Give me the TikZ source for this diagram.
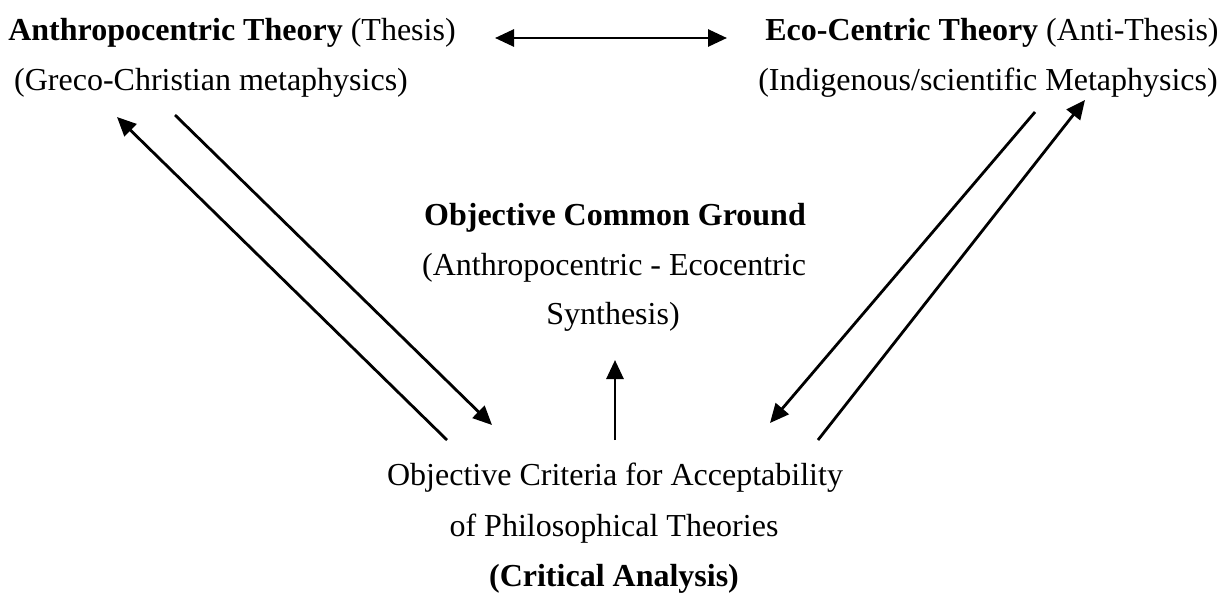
\documentclass[tikz,border=0pt]{standalone}
\usepackage{fontspec}
\setmainfont{Liberation Serif}
\usetikzlibrary{arrows.meta}
\begin{document}
\begin{tikzpicture}[x=1pt,y=-1pt,
  txt/.style={inner sep=0pt,anchor=base,font=\fontsize{32}{38}\selectfont},
  arr/.style={line width=2.8pt,-{Triangle[length=19pt,width=17pt]}},
  darr/.style={line width=2.8pt,{Triangle[length=19pt,width=17pt]}-{Triangle[length=19pt,width=17pt]}}]
\useasboundingbox (0,0) rectangle (1232,611);
% top left
\node[txt] (a1) at (232,40) {\textbf{Anthropocentric Theory} (Thesis)};
\node[txt] (a2) at (211,90) {(Greco-Christian metaphysics)};
% top right
\node[txt] (b1) at (992,40) {\textbf{Eco-Centric Theory} (Anti-Thesis)};
\node[txt] (b2) at (988,90) {(Indigenous/scientific Metaphysics)};
% centre
\node[txt] (c1) at (615,225) {\textbf{Objective Common Ground}};
\node[txt] (c2) at (614,275) {(Anthropocentric - Ecocentric};
\node[txt] (c3) at (613,324) {Synthesis)};
% bottom
\node[txt] (d1) at (615,485) {Objective Criteria for Acceptability};
\node[txt] (d2) at (614,536) {of Philosophical Theories};
\node[txt] (d3) at (614,586) {\textbf{(Critical Analysis)}};
% connector end points
\coordinate (tl) at (495,38);
\coordinate (tr) at (727,38);
\coordinate (l1s) at (447,440);
\coordinate (l1e) at (117,117);
\coordinate (l2s) at (175,115);
\coordinate (l2e) at (492,425);
\coordinate (r1s) at (1035,112);
\coordinate (r1e) at (770,423);
\coordinate (r2s) at (818,440);
\coordinate (r2e) at (1085,100);
\coordinate (us) at (615,440);
\coordinate (ue) at (615,360);
\draw[darr] (tl) -- (tr);
\draw[arr] (l1s) -- (l1e);
\draw[arr] (l2s) -- (l2e);
\draw[arr] (r1s) -- (r1e);
\draw[arr] (r2s) -- (r2e);
\draw[arr] (us) -- (ue);
\end{tikzpicture}
\end{document}
